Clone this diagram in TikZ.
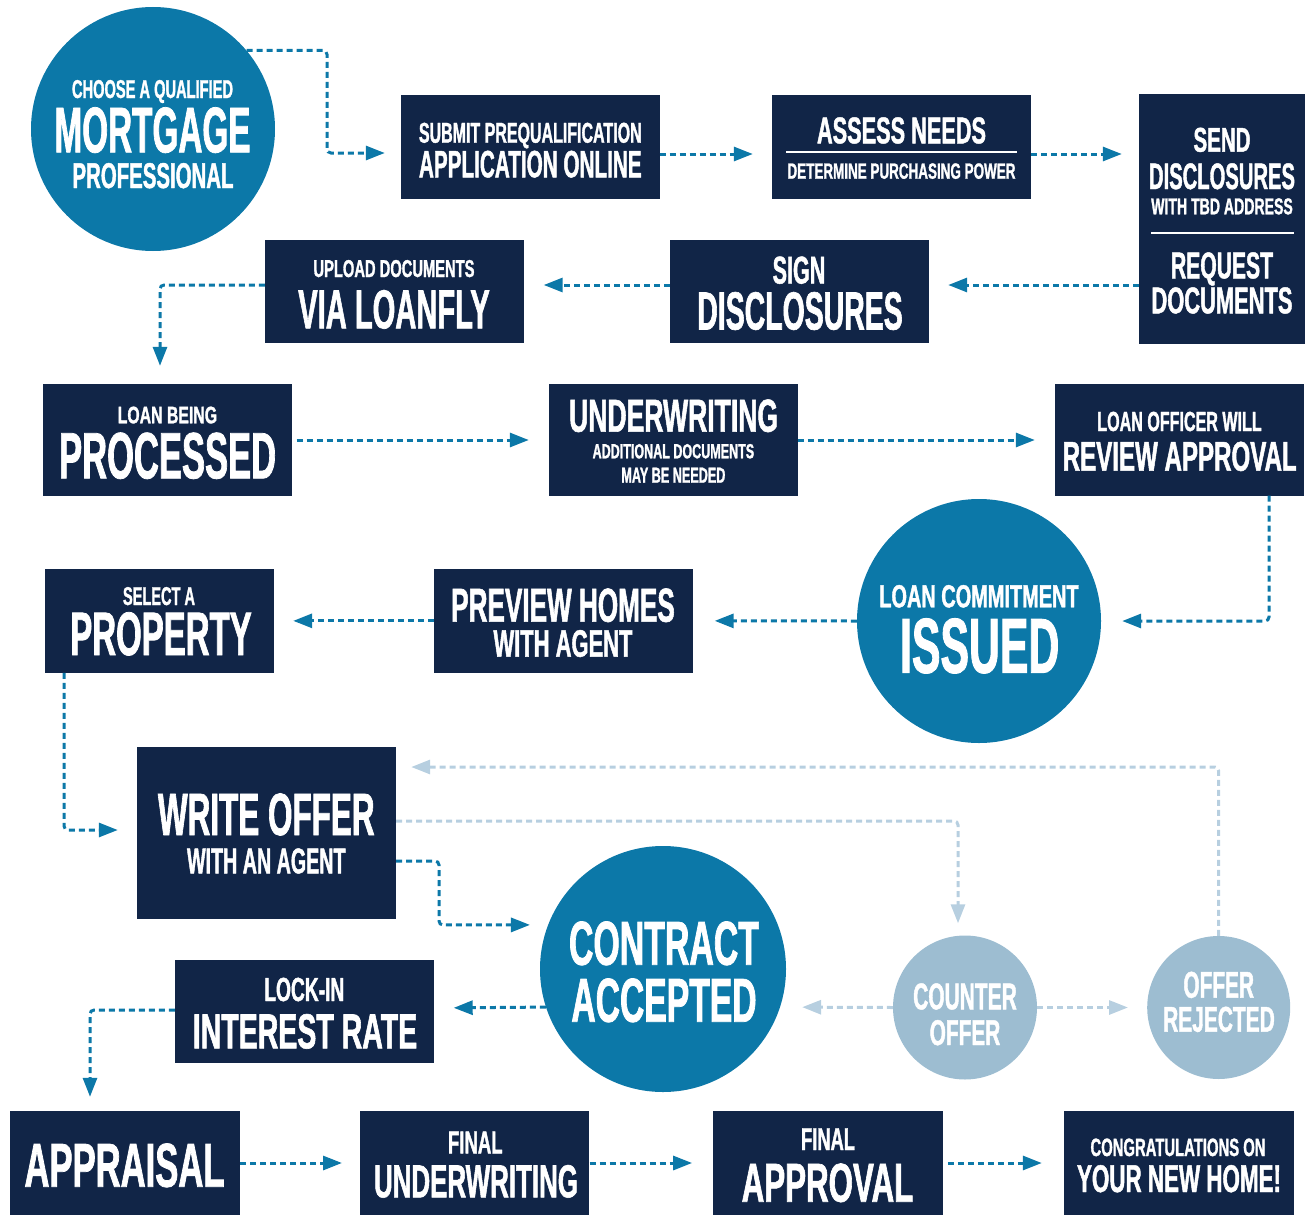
\documentclass[tikz,border=0pt]{standalone}
\usepackage{fontspec}
\setmainfont{Liberation Sans}[FakeStretch=0.6, FakeBold=1.2]
\usepackage{graphicx}
\usetikzlibrary{arrows.meta}

\definecolor{navy}{RGB}{17,37,71}
\definecolor{sea}{RGB}{12,120,168}
\definecolor{mist}{RGB}{157,189,209}
\definecolor{mistline}{RGB}{183,207,224}

% one line of capitals, fitted to its width and cap height (in px)
\newcommand{\capt}[3]{\resizebox{#1pt}{#2pt}{#3}}

\tikzset{
  navybox/.style={fill=navy, inner sep=0pt},
  bigdisc/.style={circle, fill=sea, inner sep=0pt},
  softdisc/.style={circle, fill=mist, inner sep=0pt},
  txt/.style={text=white, inner sep=0pt, anchor=base,
    font=\bfseries\fontsize{30}{30}\selectfont},
  flow/.style={draw=sea, line width=3pt, dash pattern=on 6pt off 4pt,
    rounded corners=4pt, -{Triangle[length=19pt,width=14pt]}},
  softflow/.style={flow, draw=mistline},
}

\begin{document}
\begin{tikzpicture}[x=1pt, y=-1pt]

        % Page
        \useasboundingbox (0,0) rectangle (1307,1215);

        % Row 1
        \node[bigdisc, minimum size=244pt] (mortgage) at (153,129) {};
        \node[txt] (mortgage-1) at (152.5,98) {\capt{161}{18}{CHOOSE A QUALIFIED}};
        \node[txt] (mortgage-2) at (152.5,152.3) {\capt{196}{45}{MORTGAGE}};
        \node[txt] (mortgage-3) at (153,188) {\capt{161}{25}{PROFESSIONAL}};

        \node[navybox, minimum width=258.5pt, minimum height=103.5pt] (submit) at (530.25,146.75) {};
        \node[txt] (submit-1) at (530.3,142.7) {\capt{222.7}{20}{SUBMIT PREQUALIFICATION}};
        \node[txt] (submit-2) at (530.3,177.3) {\capt{222.7}{26.6}{APPLICATION ONLINE}};

        \node[navybox, minimum width=259pt, minimum height=103.5pt] (assess) at (901.5,146.75) {};
        \node[txt] (assess-1) at (901.5,143.3) {\capt{169}{26}{ASSESS NEEDS}};
        \draw[white, line width=2pt] (786,152) -- (1017,152);
        \node[txt] (assess-2) at (901.5,178.7) {\capt{228}{15.4}{DETERMINE PURCHASING POWER}};

        \node[navybox, minimum width=166pt, minimum height=249pt] (send) at (1222,219) {};
        \node[txt] (send-1) at (1222,151.7) {\capt{57}{24}{SEND}};
        \node[txt] (send-2) at (1222,189) {\capt{146}{25.7}{DISCLOSURES}};
        \node[txt] (send-3) at (1222,214.3) {\capt{141.6}{16}{WITH TBD ADDRESS}};
        \draw[white, line width=2pt] (1151,233.3) -- (1294,233.3);
        \node[txt] (send-4) at (1222,278.3) {\capt{102}{26}{REQUEST}};
        \node[txt] (send-5) at (1222,313.3) {\capt{141}{26}{DOCUMENTS}};

        % Row 2
        \node[navybox, minimum width=259pt, minimum height=103pt] (sign) at (799.5,291.5) {};
        \node[txt] (sign-1) at (799,283.5) {\capt{52.7}{27}{SIGN}};
        \node[txt] (sign-2) at (800,329.5) {\capt{205.4}{37.5}{DISCLOSURES}};

        \node[navybox, minimum width=258.5pt, minimum height=103pt] (upload) at (394.25,291.5) {};
        \node[txt] (upload-1) at (394,277) {\capt{161}{17}{UPLOAD DOCUMENTS}};
        \node[txt] (upload-2) at (394,328.3) {\capt{191.5}{38.3}{VIA LOANFLY}};

        % Row 3
        \node[navybox, minimum width=248.5pt, minimum height=111.5pt] (processed) at (167.25,439.75) {};
        \node[txt] (processed-1) at (167.4,423.3) {\capt{99.4}{16.7}{LOAN BEING}};
        \node[txt] (processed-2) at (167.6,478.3) {\capt{217}{45.7}{PROCESSED}};

        \node[navybox, minimum width=248.5pt, minimum height=111.5pt] (underwriting) at (673.25,439.75) {};
        \node[txt] (underwriting-1) at (673.6,431.7) {\capt{209}{32.3}{UNDERWRITING}};
        \node[txt] (underwriting-2) at (673.4,458.3) {\capt{161.6}{14.3}{ADDITIONAL DOCUMENTS}};
        \node[txt] (underwriting-3) at (673.4,482.7) {\capt{104}{15}{MAY BE NEEDED}};

        \node[navybox, minimum width=249pt, minimum height=111.5pt] (review) at (1179.5,439.75) {};
        \node[txt] (review-1) at (1179.5,431) {\capt{164.4}{19.3}{LOAN OFFICER WILL}};
        \node[txt] (review-2) at (1179.7,470.7) {\capt{234}{29}{REVIEW APPROVAL}};

        % Row 4
        \node[bigdisc, minimum size=244pt] (issued) at (979,621) {};
        \node[txt] (issued-1) at (979,607.3) {\capt{199.4}{22.3}{LOAN COMMITMENT}};
        \node[txt] (issued-2) at (979.7,672.7) {\capt{159.3}{54.3}{ISSUED}};

        \node[navybox, minimum width=258.5pt, minimum height=103.7pt] (preview) at (563.25,620.85) {};
        \node[txt] (preview-1) at (563,621.7) {\capt{223.6}{33.3}{PREVIEW HOMES}};
        \node[txt] (preview-2) at (563,656.7) {\capt{139}{26.7}{WITH AGENT}};

        \node[navybox, minimum width=229.5pt, minimum height=103.7pt] (property) at (159.25,620.85) {};
        \node[txt] (property-1) at (159,605) {\capt{72}{18}{SELECT A}};
        \node[txt] (property-2) at (161,655) {\capt{181.4}{42.8}{PROPERTY}};

        % Offer
        \node[navybox, minimum width=259pt, minimum height=171.5pt] (write) at (266.5,832.75) {};
        \node[txt] (write-1) at (266.3,835) {\capt{216.6}{41.7}{WRITE OFFER}};
        \node[txt] (write-2) at (266.3,873.3) {\capt{158.5}{25}{WITH AN AGENT}};

        \node[bigdisc, minimum size=246pt] (contract) at (663,969) {};
        \node[txt] (contract-1) at (664,964.7) {\capt{190}{43.3}{CONTRACT}};
        \node[txt] (contract-2) at (664,1021.7) {\capt{185.2}{43.3}{ACCEPTED}};

        \node[softdisc, minimum size=144pt] (counter) at (965,1007.5) {};
        \node[txt] (counter-1) at (965,1009.3) {\capt{103.6}{26}{COUNTER}};
        \node[txt] (counter-2) at (965,1045) {\capt{70.6}{25}{OFFER}};

        \node[softdisc, minimum size=143pt] (rejected) at (1218.7,1007.5) {};
        \node[txt] (rejected-1) at (1218.7,997.7) {\capt{70.6}{26}{OFFER}};
        \node[txt] (rejected-2) at (1219,1031.7) {\capt{111.6}{25}{REJECTED}};

        \node[navybox, minimum width=258.5pt, minimum height=103.3pt] (lockin) at (304.25,1011.65) {};
        \node[txt] (lockin-1) at (304.3,1001) {\capt{80}{23.3}{LOCK-IN}};
        \node[txt] (lockin-2) at (305,1048.3) {\capt{224.4}{34.3}{INTEREST RATE}};

        % Bottom row
        \node[navybox, minimum width=229.8pt, minimum height=104pt] (appraisal) at (124.9,1163) {};
        \node[txt] (appraisal-1) at (124.5,1186.7) {\capt{200}{43.3}{APPRAISAL}};

        \node[navybox, minimum width=229.1pt, minimum height=104pt] (finaluw) at (474.75,1163) {};
        \node[txt] (finaluw-1) at (475.3,1153.3) {\capt{54.6}{21.7}{FINAL}};
        \node[txt] (finaluw-2) at (476,1197.3) {\capt{204}{32.3}{UNDERWRITING}};

        \node[navybox, minimum width=229.4pt, minimum height=104pt] (finalapp) at (828,1163) {};
        \node[txt] (finalapp-1) at (828,1150) {\capt{54}{21.7}{FINAL}};
        \node[txt] (finalapp-2) at (827.5,1201.7) {\capt{171.6}{38.3}{APPROVAL}};

        \node[navybox, minimum width=230pt, minimum height=104pt] (congrats) at (1179,1163) {};
        \node[txt] (congrats-1) at (1178,1156) {\capt{175}{17.5}{CONGRATULATIONS ON}};
        \node[txt] (congrats-2) at (1179,1192) {\capt{204}{27}{YOUR NEW HOME!}};

        % Main path
        \draw[flow, shorten >=16pt] (mortgage.40) -| (327,153) -- (submit.west |- 0,153);
        \draw[flow, shorten >=19pt] (submit.east |- 0,154) -- (assess.west |- 0,154);
        \draw[flow, shorten >=17pt] (assess.east |- 0,154) -- (send.west |- 0,154);
        \draw[flow, shorten >=19pt] (send.west |- 0,285) -- (sign.east |- 0,285);
        \draw[flow, shorten >=20pt] (sign.west |- 0,285) -- (upload.east |- 0,285);
        \draw[flow, shorten >=18pt] (upload.west |- 0,285) -| (processed.north -| 160,0);
        \draw[flow, shorten <=5pt, shorten >=20pt] (processed.east |- 0,440) -- (underwriting.west |- 0,440);
        \draw[flow, shorten >=20pt] (underwriting.east |- 0,440) -- (review.west |- 0,440);
        \draw[flow, shorten >=21pt] (review.south -| 1269,0) |- (issued.east);
        \draw[flow, shorten >=22pt] (issued.west) -- (preview.east);
        \draw[flow, shorten >=19pt] (preview.west) -- (property.east);
        \draw[flow, shorten >=19pt] (property.south -| 64,0) |- (write.west |- 0,830);
        \draw[flow, shorten >=18pt] (write.east |- 0,861) -| (439,925) -- (contract.159);

        % Offer loop
        \draw[softflow, shorten >=12pt] (write.east |- 0,821) -| (counter.north -| 958,0);
        \draw[softflow, shorten >=15pt] (rejected.north) |- (write.east |- 0,767);
        \draw[softflow, shorten >=22pt] (counter.west) -- (contract.-18);
        \draw[softflow, shorten >=19pt] (counter.east) -- (rejected.west);

        % Closing
        \draw[flow, shorten >=20pt] (contract.198) -- (lockin.east |- 0,1008);
        \draw[flow, shorten >=14pt] (lockin.west |- 0,1010) -| (appraisal.north -| 90,0);
        \draw[flow, shorten >=18pt] (appraisal.east |- 0,1163) -- (finaluw.west |- 0,1163);
        \draw[flow, shorten >=21pt] (finaluw.east |- 0,1163) -- (finalapp.west |- 0,1163);
        \draw[flow, shorten <=5pt, shorten >=22pt] (finalapp.east |- 0,1163) -- (congrats.west |- 0,1163);

\end{tikzpicture}
\end{document}
